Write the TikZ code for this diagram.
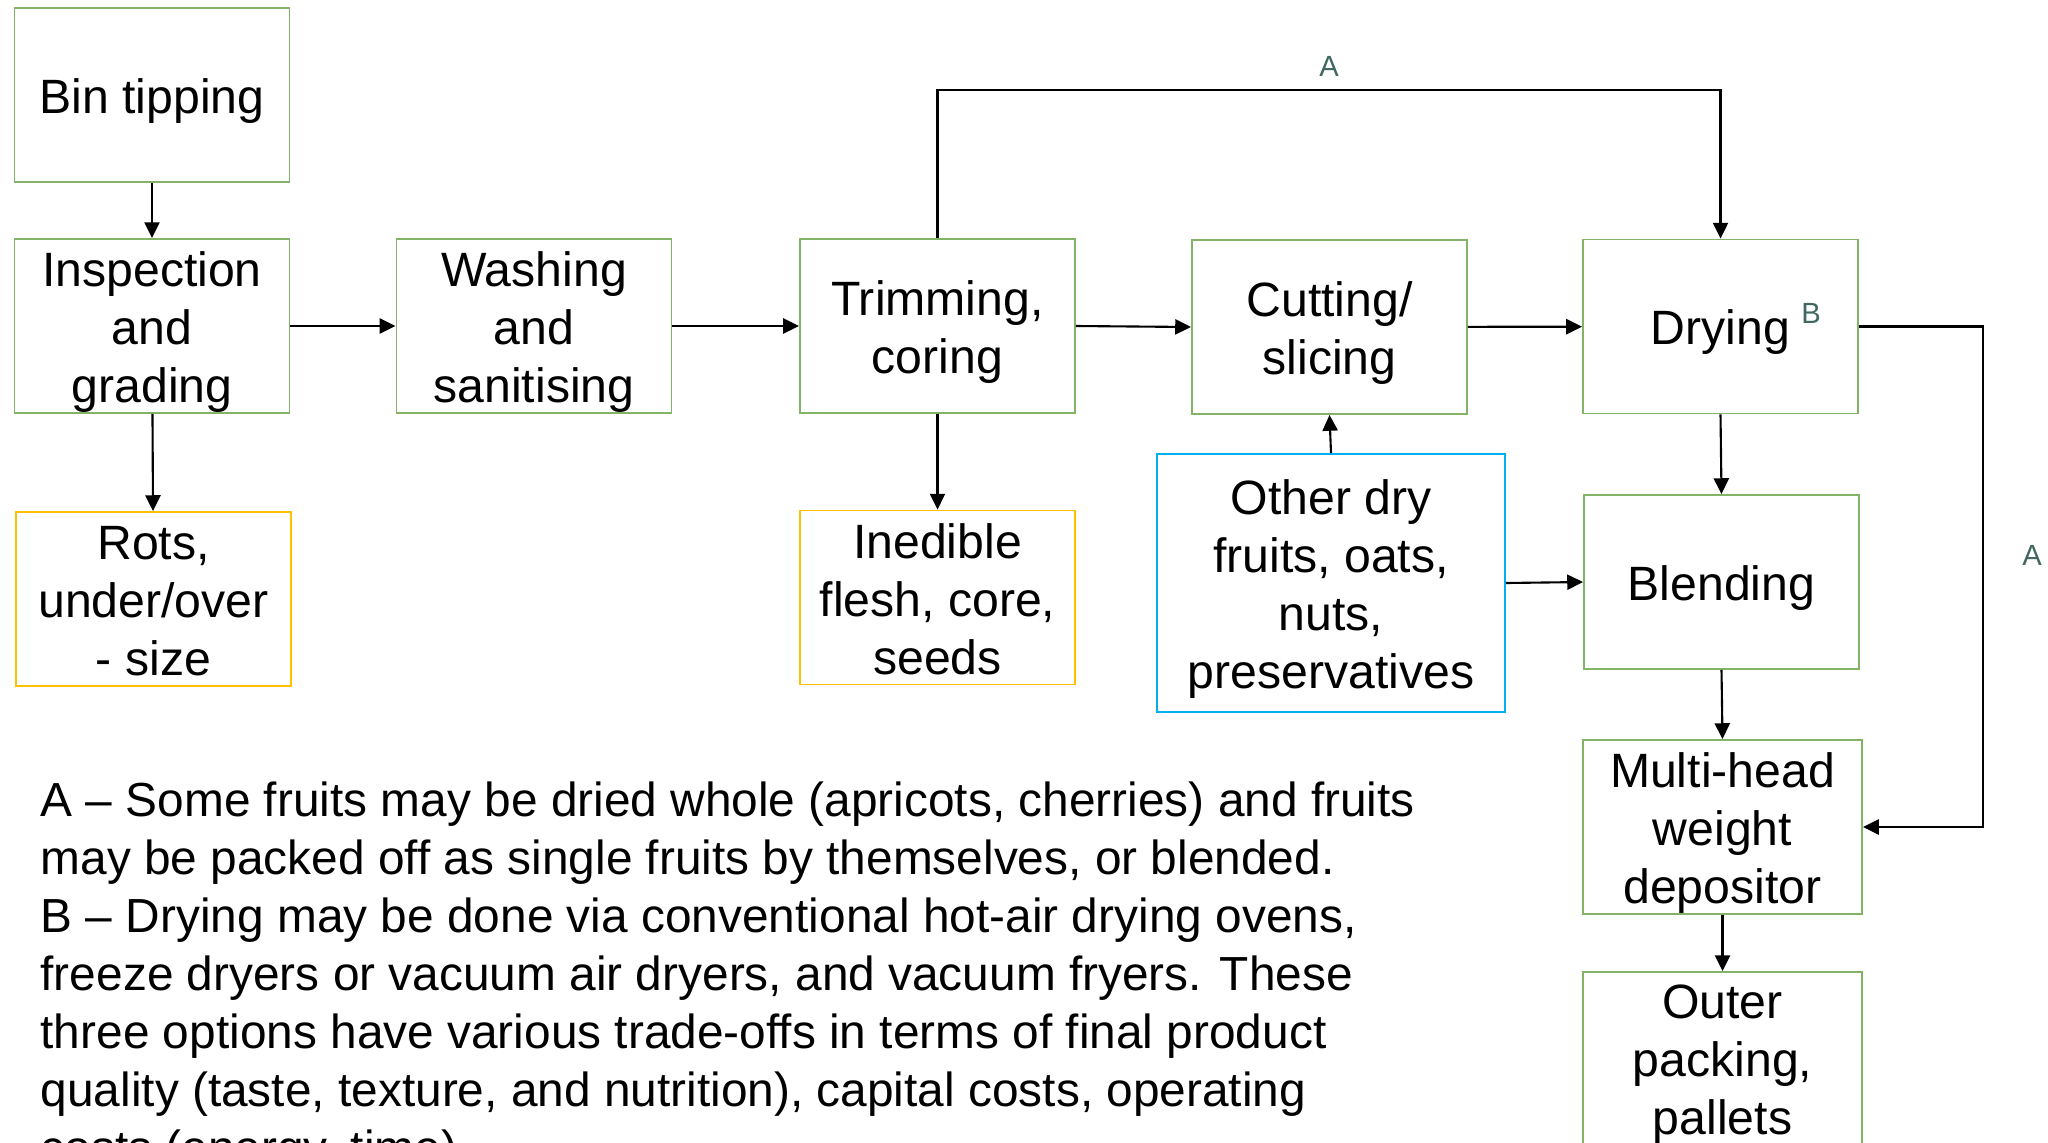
\documentclass[tikz,border=0pt]{standalone}
\usepackage{fontspec}
\setmainfont{Liberation Sans}
\usetikzlibrary{arrows.meta}
\definecolor{stepgreen}{HTML}{82B366}
\definecolor{wasteamber}{HTML}{FFC000}
\definecolor{inputblue}{HTML}{00B0F0}
\definecolor{notecol}{RGB}{64,104,96}
\tikzset{
  x=0.01cm, y=-0.01cm,
  boxtext/.style={font=\fontsize{13.7}{16.5}\selectfont, align=center, inner sep=0pt},
  caption/.style={label={[boxtext, yshift=-0.06cm]center:{#1}}},
  wastecaption/.style={label={[boxtext, yshift=-0.02cm]center:{#1}}},
  stepbox/.style={draw=stepgreen, line width=0.5pt, inner sep=0pt, minimum width=2.75cm, minimum height=1.74cm},
  wastebox/.style={stepbox, draw=wasteamber},
  inputbox/.style={draw=inputblue, line width=0.5pt, inner sep=0pt, minimum width=3.48cm, minimum height=2.58cm},
  arr/.style={draw=black, line width=0.6pt, -{Triangle[length=4.5pt,width=4.3pt]}},
  tag/.style={text=notecol, font=\fontsize{8.3}{10}\selectfont, inner sep=0pt},
  notetext/.style={font=\fontsize{13.6}{16.5}\selectfont, inner sep=0pt, anchor=base west}
}
\begin{document}
\begin{tikzpicture}
\useasboundingbox (0,0) rectangle (2048,1142);
\clip (0,0) rectangle (2048,1142);

% process steps
\node[stepbox, caption={Bin tipping}] (bin) at (152,95) {};
\node[stepbox, caption={Inspection\\and\\grading}] (insp) at (152,326) {};
\node[wastebox, wastecaption={Rots,\\under/over\\- size}] (rots) at (153.5,599) {};
\node[stepbox, caption={Washing\\and\\sanitising}] (wash) at (534,326) {};
\node[stepbox, caption={Trimming,\\coring}] (trim) at (937.5,326) {};
\node[wastebox, wastecaption={Inedible\\flesh, core,\\seeds}] (ined) at (937.5,597.5) {};
\node[stepbox, caption={Cutting/\\slicing}] (cut) at (1329.5,327) {};
\node[inputbox, caption={Other dry\\fruits, oats,\\nuts,\\preservatives}] (other) at (1331,583) {};
\node[stepbox, caption={Drying}] (dry) at (1720.5,326.5) {};
\node[tag] (tagB) at (1811,313) {B};
\node[stepbox, caption={Blending}] (blend) at (1721.5,582) {};
\node[stepbox, minimum width=2.79cm, caption={Multi-head\\weight\\depositor}] (multi) at (1722.5,827) {};
\node[stepbox, minimum width=2.79cm, caption={Outer\\packing,\\pallets}] (outer) at (1722.5,1059) {};

% main flow
\draw[arr] (bin) -- (insp);
\draw[arr] (insp) -- (wash);
\draw[arr] (insp) -- (rots);
\draw[arr] (wash) -- (trim);
\draw[arr] (trim.east) -- (cut.west);
\draw[arr] (trim) -- (ined);
\draw[arr] (cut) -- (dry);
\draw[arr] (other.north) -- (cut.south);
\draw[arr] (other.east) -- (blend.west);
\draw[arr] (dry.south) -- (blend.north);
\draw[arr] (blend.south) -- (multi.north);
\draw[arr] (multi) -- (outer);

% bypass routes
\coordinate (topA) at (1330,90);
\coordinate (sideA) at (1983,577);
\draw[arr] (trim.north) |- (topA) -| (dry.north);
\draw[arr] (dry.east) -| (sideA) |- (multi.east);
\node[tag] (tagA1) at (1329,66) {A};
\node[tag] (tagA2) at (2032,555) {A};

% notes
\node[notetext] (n1) at (40,816) {A – Some fruits may be dried whole (apricots, cherries) and fruits};
\node[notetext] (n2) at (40,874) {may be packed off as single fruits by themselves, or blended.};
\node[notetext] (n3) at (40,932) {B – Drying may be done via conventional hot-air drying ovens,};
\node[notetext] (n4) at (40,990) {freeze dryers or vacuum air dryers, and vacuum fryers. These};
\node[notetext] (n5) at (40,1048) {three options have various trade-offs in terms of final product};
\node[notetext] (n6) at (40,1106) {quality (taste, texture, and nutrition), capital costs, operating};
\node[notetext] (n7) at (40,1164) {costs (energy, time).};
\end{tikzpicture}
\end{document}
